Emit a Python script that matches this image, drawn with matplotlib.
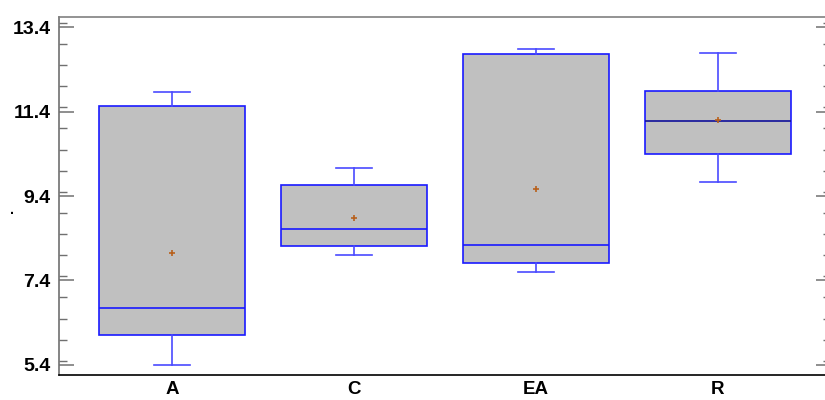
import matplotlib
matplotlib.use("Agg")
import matplotlib.pyplot as plt
from matplotlib.ticker import MultipleLocator

plt.rcParams['font.family'] = ['Liberation Sans', 'DejaVu Sans']

groups = ["A", "C", "EA", "R"]
whisker_low = [5.40, 8.01, 7.59, 9.73]
q1 = [6.11, 8.21, 7.81, 10.39]
medians = [6.74, 8.63, 8.23, 11.18]
q3 = [11.52, 9.67, 12.76, 11.89]
whisker_high = [11.85, 10.06, 12.87, 12.78]
means = [8.05, 8.87, 9.57, 11.19]

stats = []
for i, name in enumerate(groups):
    stats.append({"label": name, "whislo": whisker_low[i], "q1": q1[i],
                  "med": medians[i], "q3": q3[i], "whishi": whisker_high[i],
                  "mean": means[i], "fliers": []})

fig = plt.figure(figsize=(8.25, 4), dpi=100)
ax = fig.add_axes([59 / 825, 25 / 400, 772 / 825, 358 / 400])

bp = ax.bxp(stats, positions=[1, 2, 3, 4], widths=0.8, patch_artist=True,
            showmeans=True, capwidths=0.2,
            boxprops=dict(facecolor="#c0c0c0", edgecolor="#1a1aff", linewidth=1.2),
            whiskerprops=dict(color="#4a4aff", linewidth=1.2),
            capprops=dict(color="#4a4aff", linewidth=1.2),
            medianprops=dict(color="#1a1aff", linewidth=1.2),
            meanprops=dict(marker="+", markeredgecolor="#b8601c", markersize=5,
                           markeredgewidth=1.2))
bp["medians"][3].set_color("#10109a")

ax.set_xlim(0.379, 4.621)
ax.set_ylim(5.163, 13.637)
ax.set_yticks([5.4, 7.4, 9.4, 11.4, 13.4])
ax.yaxis.set_minor_locator(MultipleLocator(0.5))
ax.yaxis.set_ticks_position("both")
ax.tick_params(axis="y", which="major", direction="in", length=11, width=1.1,
               color="#707070", labelsize=14, pad=6)
ax.tick_params(axis="y", which="minor", direction="in", length=5.5, width=1.0,
               color="#707070")
ax.tick_params(axis="x", length=0, labelsize=13.5, pad=4)
for lab in ax.get_xticklabels() + ax.get_yticklabels():
    lab.set_fontweight("bold")

ax.spines["left"].set_color("#707070")
ax.spines["top"].set_color("#808080")
ax.spines["right"].set_visible(False)
ax.spines["bottom"].set_color("black")
for s in ax.spines.values():
    s.set_linewidth(1.2)

fig.text(12 / 825, 1 - 210 / 400, ".", fontsize=10, fontweight="bold",
         ha="center", va="center")

fig.savefig("out.png", dpi=100)
